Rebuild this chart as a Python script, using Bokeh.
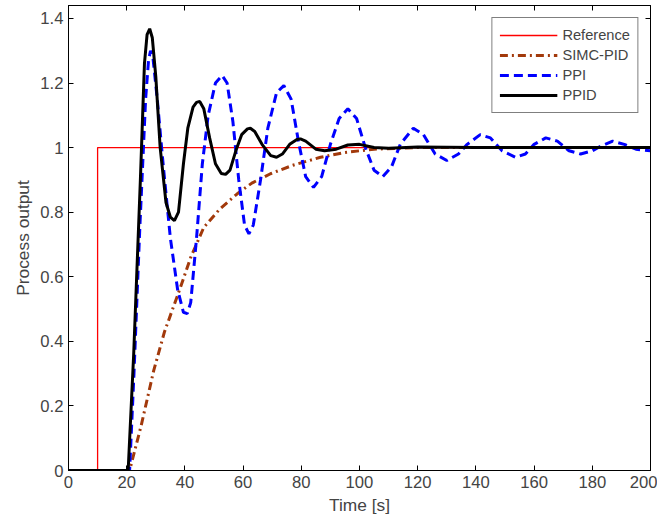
from bokeh.plotting import figure
from bokeh.models import LinearAxis, Range1d, Legend, LegendItem, FixedTicker
from bokeh.embed import file_html
from bokeh.resources import INLINE

ref_t = [0, 10, 10, 200]
ref_y = [0, 0, 1, 1]

simc_t = [0, 21, 25, 29.3, 33, 38.5, 42, 46.5, 52, 58, 63, 69.4, 77, 86.6, 95, 105, 120, 200]
simc_y = [0, 0, 0.14, 0.31, 0.43, 0.568, 0.66, 0.753, 0.81, 0.857, 0.89, 0.919, 0.945, 0.97,
          0.985, 0.995, 1.0, 1.0]

ppi_t = [0, 21, 22.5, 24.5, 26.5, 27.5, 28.2, 29, 30.5, 32.5, 35, 37.5, 39.5, 40.8, 42, 44, 46, 48,
         50.5, 52.8, 54.5, 56.5, 58.5, 60.5, 62, 63.5, 66, 68.5, 71.5, 74, 76.5, 79, 81.5, 84.2,
         87, 90, 93, 96, 99, 102, 105, 108, 111, 114, 118.5, 122, 126, 130, 134, 137, 141.5, 145,
         149, 153.6, 157, 160, 164, 168, 172, 176, 180, 183, 187, 191, 195, 200]
ppi_y = [0, 0, 0.3, 0.75, 1.15, 1.27, 1.30, 1.28, 1.15, 0.95, 0.72, 0.56, 0.49, 0.486, 0.52, 0.72,
         0.95, 1.1, 1.2, 1.223, 1.2, 1.08, 0.9, 0.76, 0.733, 0.76, 0.9, 1.06, 1.17, 1.192, 1.15,
         1.02, 0.91, 0.877, 0.91, 1.01, 1.09, 1.12, 1.09, 1.0, 0.93, 0.91, 0.94, 1.01, 1.06, 1.04,
         0.98, 0.96, 0.98, 1.01, 1.04, 1.03, 0.99, 0.97, 0.98, 1.01, 1.03, 1.02, 0.99, 0.98, 0.99,
         1.005, 1.02, 1.01, 0.995, 0.99]

ppid_t = [0, 20.5, 22.4, 24.7, 26.1, 27.0, 27.9, 28.8, 30, 31.5, 33.5, 35, 36.4, 37.8, 39.5, 41,
          42.8, 44, 45.1, 46.5, 48.5, 50.5, 52.5, 54, 55.5, 57.5, 59.5, 61.5, 62.5, 64, 66.5, 69.5,
          71.5, 73.5, 76, 78.5, 79.7, 81.5, 85, 88, 92, 96, 100, 105, 110, 120, 140, 200]
ppid_y = [0, 0, 0.36, 0.9, 1.26, 1.35, 1.368, 1.34, 1.22, 1.0, 0.83, 0.785, 0.774, 0.8, 0.95, 1.06,
          1.125, 1.14, 1.143, 1.12, 1.03, 0.95, 0.92, 0.917, 0.93, 0.99, 1.04, 1.058, 1.06, 1.05,
          1.01, 0.975, 0.97, 0.98, 1.01, 1.025, 1.027, 1.02, 0.995, 0.99, 0.995, 1.008, 1.01, 1.0,
          0.998, 1.002, 1.0, 1.0]

p = figure(width=657, height=519, output_backend="svg", toolbar_location=None,
           x_range=Range1d(0, 200), y_range=Range1d(0, 1.44),
           x_axis_label="Time [s]", y_axis_label="Process output",
           min_border_left=68, min_border_right=7, min_border_top=5, min_border_bottom=49)
p.grid.visible = False
p.outline_line_color = "black"

for ax in p.axis:
    ax.major_tick_in = 5
    ax.major_tick_out = 0
    ax.minor_tick_line_color = None
    ax.major_label_text_font_size = "12.5pt"
    ax.axis_label_text_font_size = "13pt"
    ax.axis_label_text_font_style = "normal"
    ax.axis_label_text_font = "Liberation Sans"
    ax.major_label_text_font = "Liberation Sans"
    ax.axis_label_standoff = 4
p.xaxis.ticker = FixedTicker(ticks=list(range(0, 201, 20)))
p.yaxis.ticker = FixedTicker(ticks=[0, 0.2, 0.4, 0.6, 0.8, 1, 1.2, 1.4])

for loc in ("above", "right"):
    a = LinearAxis(major_label_text_color=None, major_tick_in=5, major_tick_out=0,
                   minor_tick_line_color=None)
    a.ticker = p.xaxis[0].ticker if loc == "above" else p.yaxis[0].ticker
    p.add_layout(a, loc)

r1 = p.line(ref_t, ref_y, line_color="red", line_width=1.3)
r2 = p.line(simc_t, simc_y, line_color="#A2390B", line_width=3, line_dash="8 4 2 4")
r3 = p.line(ppi_t, ppi_y, line_color="#0000FF", line_width=3, line_dash="9 5")
r4 = p.line(ppid_t, ppid_y, line_color="black", line_width=3)

legend = Legend(items=[LegendItem(label="Reference", renderers=[r1]),
                       LegendItem(label="SIMC-PID", renderers=[r2]),
                       LegendItem(label="PPI", renderers=[r3]),
                       LegendItem(label="PPID", renderers=[r4])],
                location="top_right", border_line_color="black", label_text_font_size="11pt",
                label_text_font="Liberation Sans", glyph_width=58, spacing=0, margin=12,
                padding=7)
p.add_layout(legend)

open("out.html", "w").write(file_html(p, INLINE))
